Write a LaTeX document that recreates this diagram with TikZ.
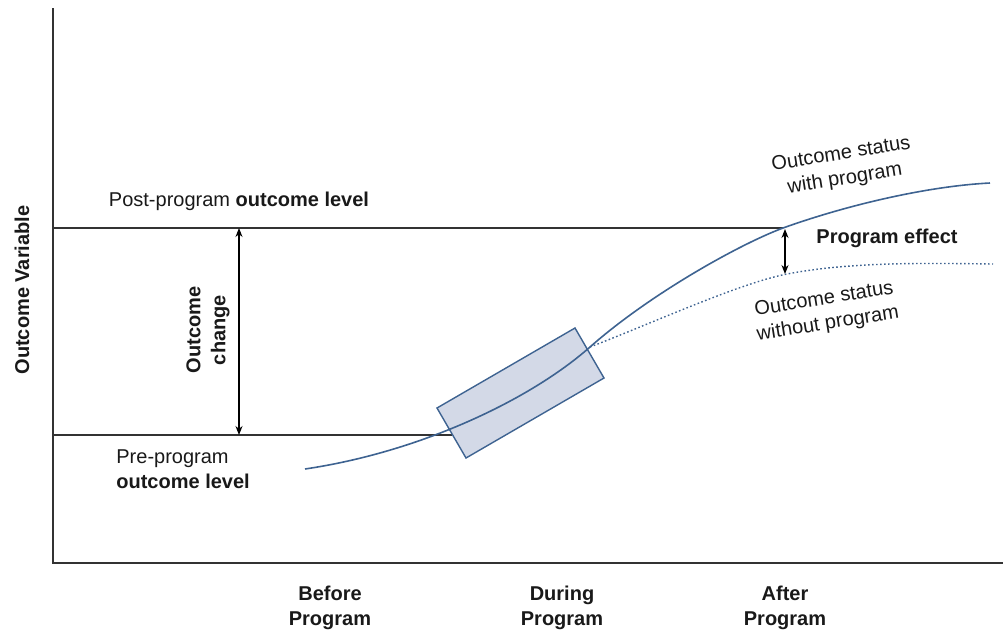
\documentclass[tikz,border=0pt]{standalone}
\usepackage{fontspec}
\setmainfont{Liberation Sans}
\usetikzlibrary{arrows.meta}
\definecolor{curveblue}{RGB}{62,99,145}
\definecolor{boxfill}{RGB}{211,217,231}
\tikzset{
    level/.style={draw=black!80, line width=0.6pt},
    outcome/.style={draw=curveblue, line width=0.8pt},
    txt/.style={font=\fontsize{10}{12.5}\selectfont, text=black!90, align=center, inner sep=0pt},
}

\begin{document}
\begin{tikzpicture}[x=0.5pt,y=-0.5pt,>={Stealth[length=4.5pt,width=3.5pt]}]
        \useasboundingbox (0,0) rectangle (1003,634);

        \coordinate (o) at (53,563);
        \coordinate (top) at (53,8);
        \coordinate (end) at (1003,563);
        \coordinate (pre) at (53,435);
        \coordinate (post) at (53,228);
        \coordinate (a) at (305,469);
        \coordinate (s) at (590,347);
        \coordinate (q) at (783,228);
        \coordinate (z) at (990,183);
        \coordinate (r) at (787,274);
        \coordinate (w) at (993,264);
        \coordinate (c1) at (239,228);
        \coordinate (c2) at (239,435);
        \coordinate (e1) at (785,229);
        \coordinate (e2) at (785,274);

        % Axes and levels
        \draw[line width=0.8pt, black!80] (top) -- (o) -- (end);
        \draw[level] (pre) -- (452,435);
        \draw[level] (post) -- (q);

        % Program box
        \coordinate (b1) at (437,408);
        \coordinate (b2) at (575,328);
        \coordinate (b3) at (604,378);
        \coordinate (b4) at (466,458);
        \filldraw[fill=boxfill, draw=curveblue, line width=0.7pt] (b1) -- (b2) -- (b3) -- (b4) -- cycle;

        % Outcome curves
        \draw[outcome] (a) .. controls (420,452) and (530,400) .. (s)
            .. controls (650,294) and (740,244) .. (q)
            .. controls (850,204) and (930,186) .. (z);
        \draw[outcome, line width=0.7pt, dash pattern=on 0.8pt off 1.2pt] (s)
            .. controls (650,324) and (740,283) .. (r)
            .. controls (850,262) and (920,263) .. (w);

        \draw[<->, line width=0.6pt] (c1) -- (c2);
        \draw[<->, line width=0.6pt] (e1) -- (e2);

        \node[txt] (postlbl) at (239,201) {Post-program \textbf{outcome level}};
        \node[txt, align=left, anchor=north west] (prelbl) at (116,449) {Pre-program\\\textbf{outcome level}};
        \node[txt, rotate=90] (chg) at (208,330) {\textbf{Outcome}\\\textbf{change}};
        \node[txt, rotate=90] (yl) at (22,290) {\textbf{Outcome Variable}};
        \node[txt] (eff) at (887,238) {\textbf{Program effect}};
        \node[txt, rotate=9] (with) at (843,167) {Outcome status\\with program};
        \node[txt, rotate=9] (without) at (826,312) {Outcome status\\without program};

        \foreach \x/\t in {330/Before, 562/During, 785/After}{
            \node[txt] (\t) at (\x,608) {\textbf{\t}\\\textbf{Program}};
 }

        \end{tikzpicture}
\end{document}
